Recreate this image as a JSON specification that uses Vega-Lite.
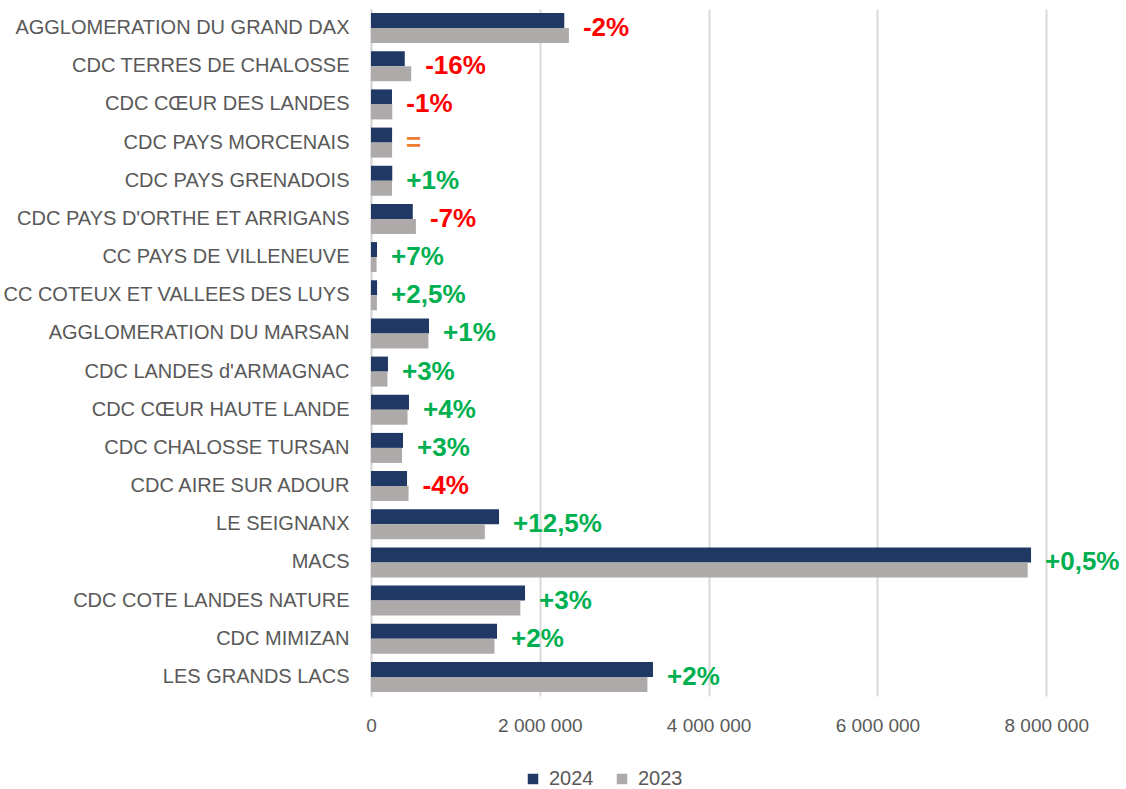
{
  "$schema": "https://vega.github.io/schema/vega-lite/v6.json",
  "width": 755,
  "height": 687,
  "autosize": {"type": "none"},
  "padding": {"left": 371, "top": 9, "right": 0, "bottom": 93},
  "background": "white",
  "config": {
    "view": {"stroke": null},
    "font": "Liberation Sans",
    "locale": {"number": {"decimal": ",", "thousands": " ", "grouping": [3], "currency": ["", " €"]}}
  },
  "data": {
    "values": [
      {"cat": "AGGLOMERATION DU GRAND DAX", "year": "2024", "value": 2290000, "label": "-2%", "trend": "neg"},
      {"cat": "AGGLOMERATION DU GRAND DAX", "year": "2023", "value": 2345000, "label": "-2%", "trend": "neg"},
      {"cat": "CDC TERRES DE CHALOSSE", "year": "2024", "value": 400000, "label": "-16%", "trend": "neg"},
      {"cat": "CDC TERRES DE CHALOSSE", "year": "2023", "value": 476000, "label": "-16%", "trend": "neg"},
      {"cat": "CDC CŒUR DES LANDES", "year": "2024", "value": 249000, "label": "-1%", "trend": "neg"},
      {"cat": "CDC CŒUR DES LANDES", "year": "2023", "value": 252000, "label": "-1%", "trend": "neg"},
      {"cat": "CDC PAYS MORCENAIS", "year": "2024", "value": 250000, "label": "=", "trend": "eq"},
      {"cat": "CDC PAYS MORCENAIS", "year": "2023", "value": 250000, "label": "=", "trend": "eq"},
      {"cat": "CDC PAYS GRENADOIS", "year": "2024", "value": 252000, "label": "+1%", "trend": "pos"},
      {"cat": "CDC PAYS GRENADOIS", "year": "2023", "value": 249000, "label": "+1%", "trend": "pos"},
      {"cat": "CDC PAYS D'ORTHE ET ARRIGANS", "year": "2024", "value": 495000, "label": "-7%", "trend": "neg"},
      {"cat": "CDC PAYS D'ORTHE ET ARRIGANS", "year": "2023", "value": 532000, "label": "-7%", "trend": "neg"},
      {"cat": "CC PAYS DE VILLENEUVE", "year": "2024", "value": 71000, "label": "+7%", "trend": "pos"},
      {"cat": "CC PAYS DE VILLENEUVE", "year": "2023", "value": 66000, "label": "+7%", "trend": "pos"},
      {"cat": "CC COTEUX ET VALLEES DES LUYS", "year": "2024", "value": 72000, "label": "+2,5%", "trend": "pos"},
      {"cat": "CC COTEUX ET VALLEES DES LUYS", "year": "2023", "value": 70000, "label": "+2,5%", "trend": "pos"},
      {"cat": "AGGLOMERATION DU MARSAN", "year": "2024", "value": 687000, "label": "+1%", "trend": "pos"},
      {"cat": "AGGLOMERATION DU MARSAN", "year": "2023", "value": 680000, "label": "+1%", "trend": "pos"},
      {"cat": "CDC LANDES d'ARMAGNAC", "year": "2024", "value": 201000, "label": "+3%", "trend": "pos"},
      {"cat": "CDC LANDES d'ARMAGNAC", "year": "2023", "value": 195000, "label": "+3%", "trend": "pos"},
      {"cat": "CDC CŒUR HAUTE LANDE", "year": "2024", "value": 450000, "label": "+4%", "trend": "pos"},
      {"cat": "CDC CŒUR HAUTE LANDE", "year": "2023", "value": 433000, "label": "+4%", "trend": "pos"},
      {"cat": "CDC CHALOSSE TURSAN", "year": "2024", "value": 379000, "label": "+3%", "trend": "pos"},
      {"cat": "CDC CHALOSSE TURSAN", "year": "2023", "value": 368000, "label": "+3%", "trend": "pos"},
      {"cat": "CDC AIRE SUR ADOUR", "year": "2024", "value": 427000, "label": "-4%", "trend": "neg"},
      {"cat": "CDC AIRE SUR ADOUR", "year": "2023", "value": 445000, "label": "-4%", "trend": "neg"},
      {"cat": "LE SEIGNANX", "year": "2024", "value": 1517000, "label": "+12,5%", "trend": "pos"},
      {"cat": "LE SEIGNANX", "year": "2023", "value": 1349000, "label": "+12,5%", "trend": "pos"},
      {"cat": "MACS", "year": "2024", "value": 7820000, "label": "+0,5%", "trend": "pos"},
      {"cat": "MACS", "year": "2023", "value": 7780000, "label": "+0,5%", "trend": "pos"},
      {"cat": "CDC COTE LANDES NATURE", "year": "2024", "value": 1825000, "label": "+3%", "trend": "pos"},
      {"cat": "CDC COTE LANDES NATURE", "year": "2023", "value": 1770000, "label": "+3%", "trend": "pos"},
      {"cat": "CDC MIMIZAN", "year": "2024", "value": 1493000, "label": "+2%", "trend": "pos"},
      {"cat": "CDC MIMIZAN", "year": "2023", "value": 1463000, "label": "+2%", "trend": "pos"},
      {"cat": "LES GRANDS LACS", "year": "2024", "value": 3341000, "label": "+2%", "trend": "pos"},
      {"cat": "LES GRANDS LACS", "year": "2023", "value": 3275000, "label": "+2%", "trend": "pos"}
    ]
  },
  "layer": [
    {
      "mark": {"type": "bar"},
      "encoding": {
        "y": {
          "field": "cat", "type": "nominal", "sort": null,
          "scale": {"paddingInner": 0.214, "paddingOuter": 0.107},
          "axis": {"title": null, "ticks": false, "labelPadding": 22, "labelFontSize": 20, "labelColor": "#595959", "labelFont": "Liberation Sans", "domainColor": "#D9D9D9", "domainWidth": 2, "labelLimit": 400}
        },
        "yOffset": {"field": "year", "type": "nominal", "sort": ["2024", "2023"], "scale": {"paddingInner": 0, "paddingOuter": 0}},
        "x": {
          "field": "value", "type": "quantitative",
          "scale": {"domain": [0, 8945000], "nice": false},
          "axis": {"title": null, "ticks": false, "domain": false, "grid": true, "gridColor": "#D9D9D9", "gridWidth": 2, "values": [0, 2000000, 4000000, 6000000, 8000000], "format": ",d", "labelFontSize": 19, "labelColor": "#595959", "labelPadding": 20, "labelFont": "Liberation Sans", "labelFlush": false}
        },
        "color": {
          "field": "year", "type": "nominal",
          "scale": {"domain": ["2024", "2023"], "range": ["#203864", "#AEAAAA"]},
          "legend": {"orient": "none", "legendX": 152, "legendY": 760, "direction": "horizontal", "title": null, "symbolType": "square", "symbolSize": 110, "symbolStrokeWidth": 0, "labelFontSize": 20, "labelColor": "#595959", "columnPadding": 18, "labelOffset": 6, "labelFont": "Liberation Sans"}
        }
      }
    },
    {
      "transform": [
        {"joinaggregate": [{"op": "max", "field": "value", "as": "maxv"}], "groupby": ["cat"]},
        {"filter": "datum.year == '2024'"}
      ],
      "mark": {"type": "text", "align": "left", "baseline": "middle", "dx": 14, "fontSize": 26, "fontWeight": "bold", "font": "Liberation Sans"},
      "encoding": {
        "y": {"field": "cat", "type": "nominal", "sort": null},
        "x": {"field": "maxv", "type": "quantitative"},
        "text": {"field": "label"},
        "color": {"field": "trend", "type": "nominal", "scale": {"domain": ["neg", "pos", "eq"], "range": ["#FF0000", "#00B050", "#ED7D31"]}, "legend": null}
      }
    }
  ],
  "resolve": {"scale": {"color": "independent"}}
}
